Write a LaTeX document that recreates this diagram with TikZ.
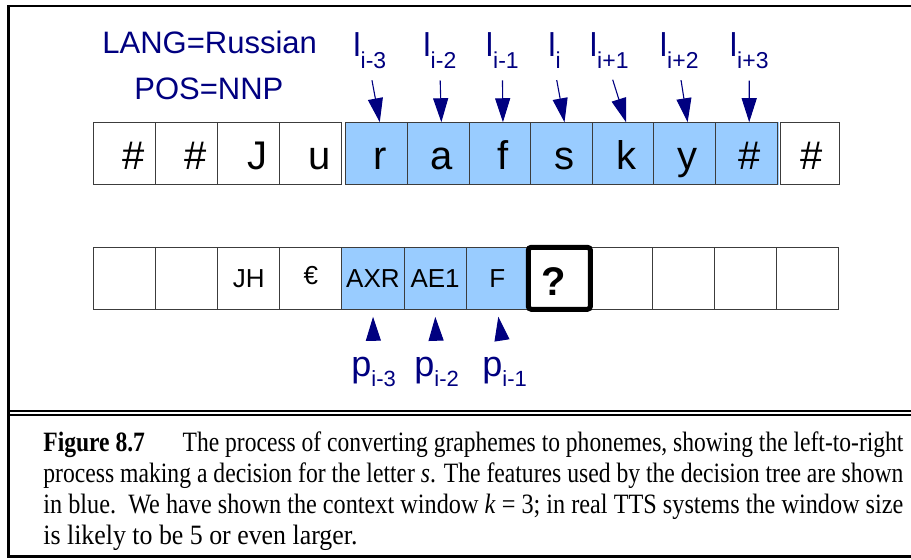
\documentclass[tikz,border=0pt]{standalone}
\usepackage{fontspec,graphicx}
\setmainfont{Liberation Serif}
\setsansfont{Liberation Sans}
\usetikzlibrary{positioning,calc,arrows.meta}
\definecolor{gtpNavy}{HTML}{000080}
\definecolor{gtpBlueBg}{HTML}{99CCFF}
\definecolor{gtpCellLine}{HTML}{3C3C3C}
\tikzset{
  cell/.style={
    rectangle, draw=gtpCellLine, line width=0.5pt,
    inner sep=0pt, minimum width=31.07pt, minimum height=30.65pt,
  },
  feature cell/.style={cell, fill=gtpBlueBg},
  decision cell/.style={cell, draw=black, line width=2.5pt, rounded corners=1.5pt},
  glyph/.style={font=\sffamily\fontsize{20}{22}\selectfont, inner sep=0pt, anchor=base},
  phone/.style={font=\sffamily\fontsize{13}{15}\selectfont, inner sep=0pt},
  info label/.style={
    text=gtpNavy, font=\sffamily\fontsize{15.5}{17}\selectfont,
    inner sep=0pt, anchor=base west,
  },
  feature label/.style={
    text=gtpNavy, font=\sffamily\fontsize{16.5}{18}\selectfont,
    inner sep=0pt, anchor=base west,
  },
  feature arrow/.style={
    draw=gtpNavy, line width=0.55pt,
    -{Triangle[length=12pt,width=7.5pt]},
  },
  caption text/.style={
    font=\fontsize{14}{15.5}\selectfont, align=left,
    inner sep=0pt, anchor=north west,
  },
}
\newcommand\lsub[1]{\raisebox{-5.8pt}{\fontsize{11.5}{12}\selectfont #1}}
\newcommand\psub[1]{\raisebox{-5pt}{\fontsize{11}{12}\selectfont #1}}
\newcommand\capline[2]{\resizebox{#1}{\height}{#2}}

\begin{document}
\begin{tikzpicture}[x=0.5pt, y=-0.5pt]
\useasboundingbox (0,0) rectangle (911,560);
\clip (0,0) rectangle (911,560);

% frame and double rule above the caption
\draw[line width=1.3pt] (930,6) -- (8.5,6) -- (8.5,556.5) -- (930,556.5);
\draw[line width=0.85pt] (8.5,410.7) -- (930,410.7);
\draw[line width=0.85pt] (8.5,415) -- (930,415);

% word features
\node[info label] (lang) at (102,53.3) {LANG=Russian};
\node[info label] (pos) at (134,100) {POS=NNP};

% letter row
\foreach \ch [count=\k] in {\#,\#,J,u} {
  \node[cell] (c\k) at ({93.5+62.1*(\k-0.5)},153.4) {};
  \node[glyph] (g\k) at ($(c\k.center)+(9,16.6)$) {\ch};
}
\foreach \ch [count=\k from 5] in {r,a,f,s,k,y,\#} {
  \node[feature cell, minimum width=30.8pt] (c\k) at ({346+61.57*(\k-4.5)},153.4) {};
  \node[glyph] (g\k) at ($(c\k.center)+(3,16.6)$) {\ch};
}
\node[cell, minimum width=29.25pt] (c12) at (809.8,153.4) {};
\node[glyph] (g12) at ($(c12.center)+(2,16.6)$) {\#};
\fill[gtpBlueBg] ([xshift=0.3pt]c11.north east) rectangle ([xshift=-0.3pt]c12.south west);

% letter context labels
\node[feature label] (l1) at (353,56.7) {l\lsub{i-3}};
\node[feature label] (l2) at (423,56.7) {l\lsub{i-2}};
\node[feature label] (l3) at (485.5,56.7) {l\lsub{i-1}};
\node[feature label] (l4) at (548,56.7) {l\lsub{i}};
\node[feature label] (l5) at (589.5,56.7) {l\lsub{i+1}};
\node[feature label] (l6) at (659.5,56.7) {l\lsub{i+2}};
\node[feature label] (l7) at (729.5,56.7) {l\lsub{i+3}};
\foreach \n [evaluate=\n as \k using int(\n+4)] in {1,...,7}
  \draw[feature arrow, shorten <=5.8pt] (l\n.south) -- (g\k.north |- c\k.north);

% phone row
\foreach \k in {1,2,3,4,9,10,11,12}
  \node[cell, minimum height=31pt] (b\k) at ({93.3+62.14*(\k-0.5)},278.3) {};
\foreach \k in {5,6,7}
  \node[feature cell, minimum height=31pt] (b\k) at ({93.3+62.14*(\k-0.5)},278.3) {};
\node[decision cell, minimum height=31pt] (b8) at ({93.3+62.14*7.5},278.3) {};

\node[phone] (t3) at (b3) {JH};
\node[phone, font=\sffamily\fontsize{13}{15}\selectfont] (t4) at ($(b4.center)+(0,-3)$) {€};
\foreach \ph [count=\k from 5] in {AXR,AE1,F}
  \node[phone] (t\k) at (b\k) {\ph};
\node[font=\sffamily\bfseries\fontsize{20}{22}\selectfont, inner sep=0pt]
  (q) at ($(b8.center)+(-6,3)$) {?};

% phone history labels
\node[feature label, font=\sffamily\fontsize{18}{20}\selectfont] (p1) at (351,377) {p\psub{i-3}};
\node[feature label, font=\sffamily\fontsize{18}{20}\selectfont] (p2) at (414,377) {p\psub{i-2}};
\node[feature label, font=\sffamily\fontsize{18}{20}\selectfont] (p3) at (482,377) {p\psub{i-1}};
\foreach \n [evaluate=\n as \k using int(\n+4)] in {1,2,3}
  \draw[feature arrow, shorten <=10.5pt, shorten >=3.5pt] (p\n.north) -- (t\k |- b\k.south);

% caption
\node[caption text] (cap) at (43,431) {%
  \capline{430pt}{\textbf{Figure 8.7}\hspace{1.6em}The process of converting graphemes to phonemes, showing the left-to-right}\\
  \capline{430pt}{process making a decision for the letter \textit{s}. The features used by the decision tree are shown}\\
  \capline{430pt}{in blue.\ \ We have shown the context window \textit{k} = 3; in real TTS systems the window size}\\
  \capline{157pt}{is likely to be 5 or even larger.}
};

\end{tikzpicture}
\end{document}
